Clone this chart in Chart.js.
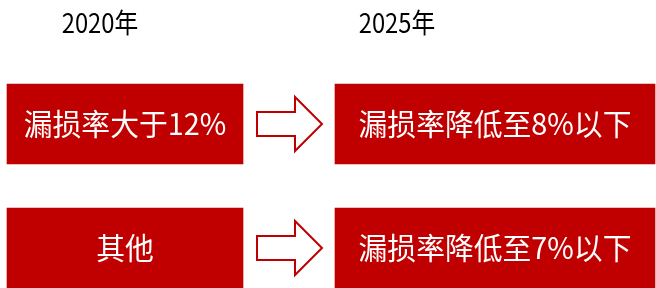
<!DOCTYPE html>
<html><head><meta charset="utf-8">
<script src="https://cdn.jsdelivr.net/npm/chart.js@4"></script>
<style>html,body{margin:0;padding:0;background:#fff}#wrap{width:656px;height:288px}</style>
</head><body><div id="wrap"><canvas id="c"></canvas></div>
<script>
// ---- data ----
const years = ['2020年', '2025年'];
const fromLabels = ['漏损率大于12%', '其他'];
const toLabels = ['漏损率降低至8%以下', '漏损率降低至7%以下'];
const rows = [0, 1];

// ---- layout (not data) ----
const layout = { fromSpan: [7, 243], toSpan: [335, 655], titleX: [100, 397], titleY: 23 };
const RED = '#C00000';

function squeezedText(ctx, text, x, y, sx) {
  ctx.save();
  ctx.translate(x, y);
  ctx.scale(sx, 1);
  ctx.fillText(text, 0, 0);
  ctx.restore();
}

const labelPlugin = {
  id: 'diagram',
  afterDatasetsDraw(chart) {
    const ctx = chart.ctx;
    const xs = chart.scales.x;
    const m0 = chart.getDatasetMeta(0), m1 = chart.getDatasetMeta(1);
    ctx.save();
    rows.forEach((r, i) => {
      const a = m0.data[i], b = m1.data[i];
      const y = a.y;
      const aRight = Math.max(a.x, a.base), bLeft = Math.min(b.x, b.base);
      const x0 = aRight + 14, x1 = bLeft - 13, xh = x1 - 27;
      const sh = 12, hh = 27;
      ctx.beginPath();
      ctx.moveTo(x0, y - sh); ctx.lineTo(xh, y - sh); ctx.lineTo(xh, y - hh);
      ctx.lineTo(x1, y); ctx.lineTo(xh, y + hh); ctx.lineTo(xh, y + sh);
      ctx.lineTo(x0, y + sh); ctx.closePath();
      ctx.fillStyle = '#fff'; ctx.fill();
      ctx.lineWidth = 2; ctx.strokeStyle = RED; ctx.lineJoin = 'miter'; ctx.stroke();

      ctx.fillStyle = '#fff';
      ctx.font = '30px "Noto Sans CJK SC"';
      ctx.textAlign = 'center'; ctx.textBaseline = 'middle';
      squeezedText(ctx, fromLabels[i], (a.x + a.base) / 2, y, 0.96);
      squeezedText(ctx, toLabels[i], (b.x + b.base) / 2, b.y, 0.96);
    });
    ctx.fillStyle = '#000';
    ctx.font = '27px "Noto Sans CJK SC"';
    ctx.textAlign = 'center'; ctx.textBaseline = 'middle';
    years.forEach((t, i) => squeezedText(ctx, t, xs.getPixelForValue(layout.titleX[i]), layout.titleY, 0.88));
    ctx.restore();
  }
};

new Chart(document.getElementById('c'), {
  type: 'bar',
  data: {
    datasets: [
      { label: years[0], data: rows.map(r => ({ x: layout.fromSpan, y: r })), backgroundColor: RED, barThickness: 80, grouped: false },
      { label: years[1], data: rows.map(r => ({ x: layout.toSpan, y: r })), backgroundColor: RED, barThickness: 80, grouped: false }
    ]
  },
  options: {
    indexAxis: 'y',
    responsive: true, maintainAspectRatio: false, animation: false,
    layout: { padding: 0 },
    scales: {
      x: { type: 'linear', min: 0, max: 656, display: false },
      y: { type: 'linear', min: -1, max: 1.3226, reverse: true, display: false, offset: false }
    },
    plugins: { legend: { display: false }, tooltip: { enabled: false } }
  },
  plugins: [labelPlugin]
});
</script></body></html>
